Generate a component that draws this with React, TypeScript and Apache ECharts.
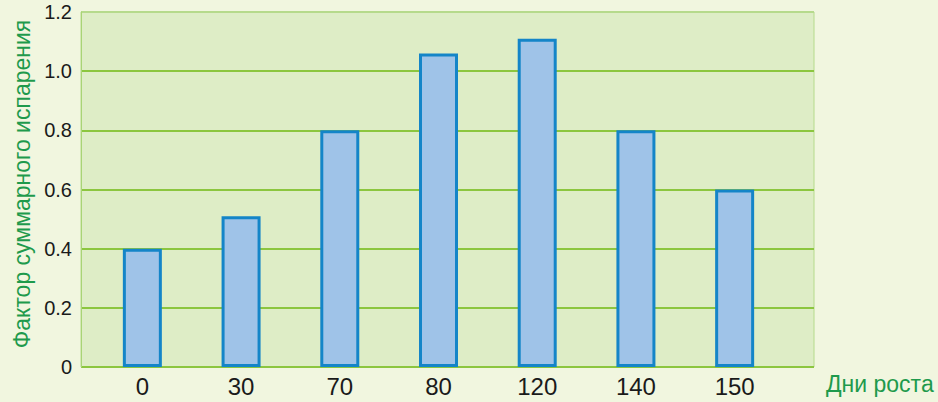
import React, { useEffect, useRef } from "react";
import * as echarts from "echarts";

const categories = ["0", "30", "70", "80", "120", "140", "150"];
const values = [0.4, 0.51, 0.8, 1.06, 1.11, 0.8, 0.6];
const yTickLabels = ["0", "0.2", "0.4", "0.6", "0.8", "1.0", "1.2"];
const yAxisTitle = "Фактор суммарного испарения";
const xAxisTitle = "Дни роста";

const SANS = "'Liberation Sans', Arial, sans-serif";

export default function App() {
  const ref = useRef<HTMLDivElement>(null);
  useEffect(() => {
    if (!ref.current) return;
    const chart = echarts.init(ref.current, null, { renderer: "svg" });
    const yFmt = (v: number) => yTickLabels[Math.round(v / 0.2)] ?? String(v);
    chart.setOption({
      animation: false,
      backgroundColor: "#f1f6df",
      grid: [
        { left: 81, top: 12, width: 733, height: 355, show: true, backgroundColor: "#deedc6", borderColor: "#b6da8c", borderWidth: 1 },
        { left: 93, top: 12, width: 691, height: 355 },
      ],
      xAxis: [
        { gridIndex: 0, type: "value", min: 0, max: 1, show: false },
        {
          gridIndex: 1,
          type: "category",
          data: categories,
          axisLine: { show: false },
          axisTick: { show: false },
          axisLabel: { color: "#1a1a1a", fontSize: 24, fontFamily: SANS, margin: 7 },
        },
      ],
      yAxis: [
        {
          gridIndex: 0,
          type: "value",
          min: 0,
          max: 1.2,
          interval: 0.2,
          axisLine: { show: true, lineStyle: { color: "#a9d476", width: 1 } },
          axisTick: { show: false },
          axisLabel: { color: "#1a1a1a", fontSize: 20, fontFamily: SANS, margin: 9, formatter: yFmt },
          splitLine: {
            show: true,
            lineStyle: { color: ["#8cc63f", "#8cc63f", "#8cc63f", "#8cc63f", "#8cc63f", "#8cc63f", "#b6da8c"], width: 2 },
          },
        },
        { gridIndex: 1, type: "value", min: 0, max: 1.2, interval: 0.2, show: false, splitLine: { show: false } },
      ],
      series: [
        {
          type: "bar",
          xAxisIndex: 1,
          yAxisIndex: 1,
          data: values,
          barWidth: 39,
          itemStyle: { color: "#9fc3e8", borderColor: "#1485c8", borderWidth: 3 },
        },
      ],
      graphic: [
        {
          type: "text",
          x: 22,
          y: 184,
          rotation: Math.PI / 2,
          style: { text: yAxisTitle, fill: "#1e9a4c", fontSize: 23, fontFamily: SANS, align: "center", verticalAlign: "middle" },
        },
        {
          type: "text",
          x: 826,
          y: 384,
          style: { text: xAxisTitle, fill: "#1e9a4c", fontSize: 23, fontFamily: SANS, align: "left", verticalAlign: "middle" },
        },
      ],
    });
    return () => chart.dispose();
  }, []);
  return <div ref={ref} style={{ position: "fixed", left: 0, top: 0, width: 938, height: 402 }} />;
}
